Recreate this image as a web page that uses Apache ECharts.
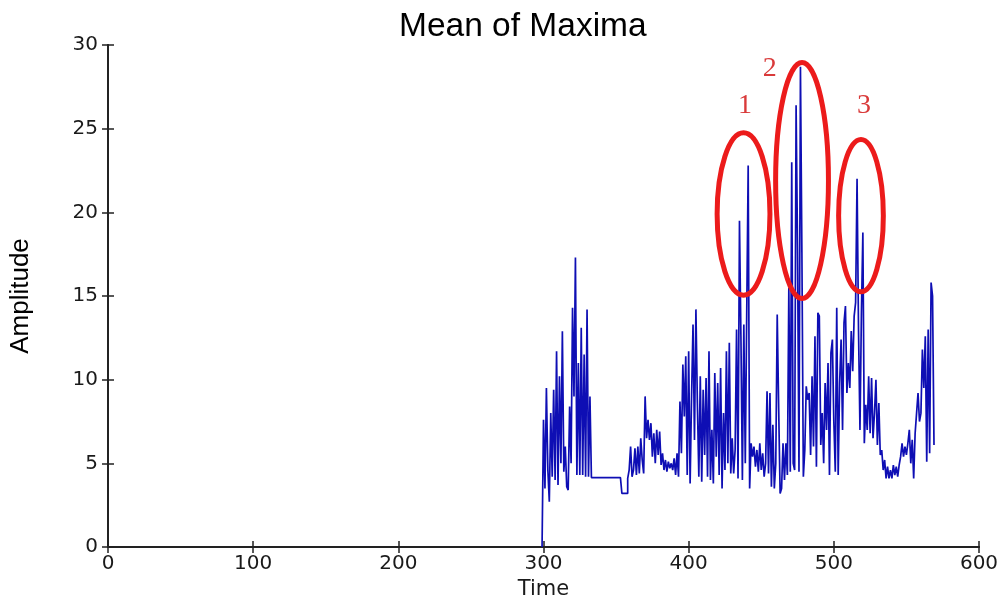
<!DOCTYPE html>
<html>
<head>
<meta charset="utf-8">
<script src="https://cdn.jsdelivr.net/npm/echarts@6/dist/echarts.min.js"></script>
<style>
html,body{margin:0;padding:0;background:#fff;}
#chart{width:1005px;height:599px;}
</style>
</head>
<body>
<div id="chart"></div>
<script>
// ---- data ----
const chartTitle = 'Mean of Maxima';
const xName = 'Time';
const yName = 'Amplitude';
const xTicks = [0, 100, 200, 300, 400, 500, 600];
const yTicks = [0, 5, 10, 15, 20, 25, 30];
const timeStart = 299; // first sample time, one sample per time unit
const amplitude = [
  0,
  7.6, 3.5, 9.5, 4.6, 2.7, 8.0, 4.2, 9.4, 4.0, 11.7,      // 300-309
  3.7, 10.2, 5.0, 12.9, 4.5, 6.0, 3.6, 3.4, 8.4, 5.0,     // 310-319
  14.3, 9.0, 17.3, 4.3, 11.0, 4.3, 13.1, 4.3, 11.5, 4.2,  // 320-329
  14.2, 4.2, 9.0, 4.15, 4.15, 4.15, 4.15, 4.15, 4.15, 4.15, // 330-339
  4.15, 4.15, 4.15, 4.15, 4.15, 4.15, 4.15, 4.15, 4.15, 4.15, // 340-349
  4.15, 4.15, 4.15, 4.15, 3.2, 3.2, 3.2, 3.2, 4.1, 4.6,   // 350-359
  6.0, 4.2, 4.6, 5.9, 4.3, 6.0, 4.4, 6.5, 5.2, 4.4,       // 360-369
  9.0, 6.5, 7.6, 6.4, 7.4, 5.4, 6.8, 5.0, 7.0, 5.5,       // 370-379
  6.9, 4.9, 5.6, 4.6, 5.2, 4.5, 5.1, 4.7, 5.0, 4.6,       // 380-389
  5.3, 4.3, 5.6, 4.2, 8.7, 5.6, 10.9, 7.8, 11.4, 4.3,     // 390-399
  11.7, 3.8, 9.0, 13.3, 6.4, 14.2, 8.6, 4.2, 10.2, 3.9,   // 400-409
  9.4, 5.5, 10.1, 4.2, 11.7, 4.0, 7.0, 3.8, 10.4, 5.4,    // 410-419
  9.8, 4.3, 10.7, 3.5, 8.0, 4.6, 11.7, 5.0, 12.2, 4.4,    // 420-429
  6.5, 4.4, 5.8, 13.0, 4.1, 19.5, 12.6, 4.0, 13.3, 5.0,   // 430-439
  14.0, 22.8, 3.5, 6.2, 5.4, 6.0, 4.8, 5.8, 4.5, 6.2,     // 440-449
  4.6, 5.6, 4.2, 5.0, 9.3, 4.4, 9.2, 3.6, 7.3, 3.5,       // 450-459
  5.0, 13.9, 8.3, 3.2, 3.5, 6.2, 4.0, 6.2, 4.3, 15.5,     // 460-469
  4.5, 23.0, 5.0, 4.6, 26.4, 17.8, 4.5, 28.7, 17.6, 4.2,  // 470-479
  5.8, 9.6, 8.8, 9.2, 5.5, 10.2, 6.0, 12.6, 4.8, 14.0,    // 480-489
  13.8, 6.1, 8.0, 5.0, 9.8, 7.0, 11.0, 4.3, 11.6, 12.4,   // 490-499
  7.5, 4.5, 14.3, 4.3, 9.8, 12.4, 7.0, 13.4, 14.4, 9.2,   // 500-509
  11.0, 9.5, 12.9, 10.5, 13.8, 14.6, 22.0, 13.0, 7.0, 14.0, // 510-519
  18.8, 6.2, 8.5, 7.0, 10.2, 6.8, 10.1, 6.5, 8.0, 10.0,   // 520-529
  6.1, 8.6, 5.5, 5.8, 4.6, 5.2, 4.1, 4.8, 4.1, 4.6,       // 530-539
  4.1, 4.9, 4.3, 4.8, 4.2, 4.9, 5.4, 6.2, 5.4, 6.0,       // 540-549
  5.5, 6.2, 7.0, 5.0, 6.4, 4.1, 6.8, 8.0, 9.2, 7.5,       // 550-559
  8.0, 11.8, 9.5, 12.6, 5.1, 13.0, 5.6, 15.8, 15.0, 6.1   // 560-569
];
// annotation ellipses: [centre time, centre amplitude, half-width (time), half-height (amplitude)]
const ellipseSpecs = [
  [437.8, 19.9, 18.2, 4.85],
  [478.1, 21.9, 18.2, 7.05],
  [518.7, 19.8, 15.4, 4.55]
];
const ellipseLabels = ['1', '2', '3'];
const labelPositions = [[438.8, 26.4], [455.8, 28.6], [520.8, 26.4]];

// ---- build ----
const seriesData = amplitude.map((v, i) => [timeStart + i, v]);
const ellipseData = ellipseSpecs.map(e => e.slice());
const labelData = labelPositions.map((p, i) => [p[0], p[1], ellipseLabels[i]]);

const axisColor = '#222';
const tickFont = 'DejaVu Sans';

const chart = echarts.init(document.getElementById('chart'), null, {renderer: 'canvas'});
chart.setOption({
  backgroundColor: '#fff',
  animation: false,
  title: {
    text: chartTitle,
    left: 399, top: 10, padding: 0,
    textStyle: {fontFamily: 'Liberation Sans', fontSize: 33.5, fontWeight: 'normal', color: '#000'}
  },
  grid: {left: 108, right: 26, top: 45, bottom: 52, containLabel: false, outerBoundsMode: 'none'},
  xAxis: [{
    type: 'value', min: xTicks[0], max: xTicks[xTicks.length - 1], interval: 100,
    position: 'bottom',
    axisLine: {show: true, lineStyle: {color: axisColor, width: 1.8}},
    axisTick: {show: true, inside: true, length: 6, lineStyle: {color: axisColor, width: 1.5}},
    axisLabel: {margin: 7, fontFamily: tickFont, fontSize: 20, color: '#1a1a1a'},
    splitLine: {show: false},
    name: xName, nameLocation: 'middle', nameGap: 26,
    nameTextStyle: {fontFamily: tickFont, fontSize: 21, color: '#1a1a1a'}
  }, {
    type: 'value', min: xTicks[0], max: xTicks[xTicks.length - 1], interval: 100,
    position: 'top',
    axisLine: {show: true, lineStyle: {color: axisColor, width: 1.8}},
    axisTick: {show: true, inside: true, length: 6, lineStyle: {color: axisColor, width: 1.5}},
    axisLabel: {show: false}, splitLine: {show: false}
  }],
  yAxis: [{
    type: 'value', min: yTicks[0], max: yTicks[yTicks.length - 1], interval: 5,
    position: 'left',
    axisLine: {show: true, lineStyle: {color: axisColor, width: 1.8}},
    axisTick: {show: true, inside: true, length: 6, lineStyle: {color: axisColor, width: 1.5}},
    axisLabel: {margin: 10, fontFamily: tickFont, fontSize: 20, color: '#1a1a1a'},
    splitLine: {show: false},
    name: yName, nameLocation: 'middle', nameGap: 74,
    nameTextStyle: {fontFamily: 'Liberation Sans', fontSize: 26, color: '#000'}
  }, {
    type: 'value', min: yTicks[0], max: yTicks[yTicks.length - 1], interval: 5,
    position: 'right',
    axisLine: {show: true, lineStyle: {color: axisColor, width: 1.8}},
    axisTick: {show: true, inside: true, length: 6, lineStyle: {color: axisColor, width: 1.5}},
    axisLabel: {show: false}, splitLine: {show: false}
  }],
  series: [{
    type: 'line',
    data: seriesData,
    step: 'end',
    showSymbol: false,
    symbol: 'none',
    lineStyle: {color: '#0e0eb4', width: 1.7},
    z: 3
  }, {
    type: 'custom',
    data: ellipseData,
    z: 5,
    renderItem: function (params, api) {
      const c = api.coord([api.value(0), api.value(1)]);
      const s = api.size([api.value(2), api.value(3)]);
      return {
        type: 'ellipse',
        shape: {cx: c[0], cy: c[1], rx: s[0], ry: s[1]},
        style: {fill: null, stroke: '#ec1b1b', lineWidth: 5}
      };
    }
  }, {
    type: 'custom',
    data: labelData,
    z: 6,
    renderItem: function (params, api) {
      const c = api.coord([api.value(0), api.value(1)]);
      return {
        type: 'text',
        x: c[0], y: c[1],
        style: {
          text: labelData[params.dataIndex][2],
          font: '28px "Liberation Serif"',
          fill: '#d93a3a',
          align: 'center', verticalAlign: 'middle'
        }
      };
    }
  }]
});
</script>
</body>
</html>
